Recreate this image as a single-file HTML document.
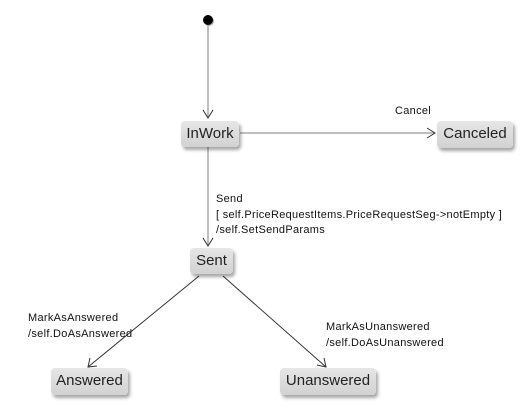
<!DOCTYPE html>
<html><head><style>
body{margin:0;width:526px;height:410px;background:#fff;position:relative;overflow:hidden;font-family:"Liberation Sans",sans-serif}
.b{position:absolute;box-sizing:border-box;border-radius:4px;background:linear-gradient(#e6e6e6,#d2d2d2);box-shadow:2px 3px 3px rgba(0,0,0,.35);font-size:15px;color:#222;text-align:center;line-height:26px}
.t{position:absolute;font-size:11px;letter-spacing:.3px;color:#111;line-height:15.5px;white-space:nowrap}
</style></head><body>
<svg width="526" height="410" style="position:absolute;left:0;top:0">
<circle cx="209" cy="21" r="5" fill="#777" opacity=".6"/>
<circle cx="208" cy="20" r="5" fill="#000"/>
<g stroke="#aaa" stroke-width="1.5" fill="none">
<line x1="208" y1="25" x2="208" y2="118"/>
<line x1="240" y1="133" x2="435" y2="133"/>
<line x1="208" y1="147" x2="208" y2="246"/>
</g>
<g stroke="#333" stroke-width="1" fill="none">
<polyline points="203,110 208,118 213,110"/>
<polyline points="427,128 435,133 427,138"/>
<polyline points="203,238 208,246 213,238"/>
<line x1="199" y1="276" x2="88" y2="367"/>
<line x1="223" y1="276" x2="326" y2="367"/>
<polyline points="90,358 88,367 97,366"/>
<polyline points="317,365 326,367 324,358"/>
</g>
</svg>
<div class="b" style="left:181px;top:121px;width:58px;height:26px">InWork</div>
<div class="b" style="left:437px;top:121px;width:76px;height:27px">Canceled</div>
<div class="b" style="left:190px;top:248px;width:43px;height:26px">Sent</div>
<div class="b" style="left:51px;top:368px;width:77px;height:27px">Answered</div>
<div class="b" style="left:280px;top:368px;width:96px;height:27px">Unanswered</div>
<div class="t" style="left:395px;top:104px">Cancel</div>
<div class="t" style="left:216px;top:192px">Send<br>[ self.PriceRequestItems.PriceRequestSeg-&gt;notEmpty ]<br>/self.SetSendParams</div>
<div class="t" style="left:28px;top:311px">MarkAsAnswered<br>/self.DoAsAnswered</div>
<div class="t" style="left:326px;top:320px">MarkAsUnanswered<br>/self.DoAsUnanswered</div>
</body></html>
